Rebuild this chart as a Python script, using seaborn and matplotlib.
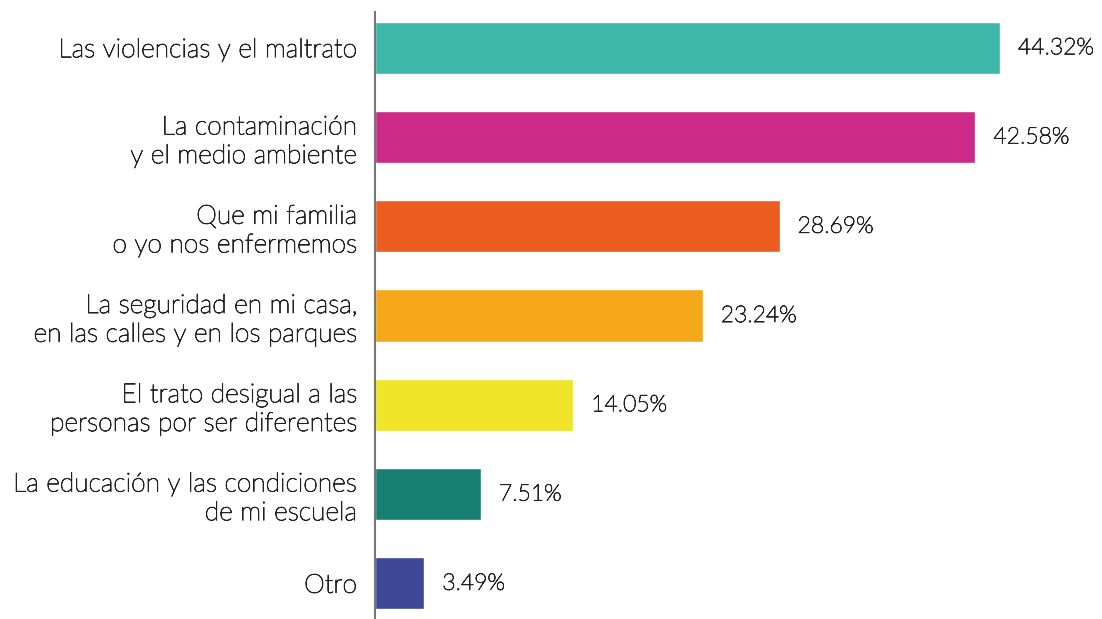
import matplotlib
matplotlib.use("Agg")
import matplotlib.pyplot as plt
import matplotlib.patheffects as pe
import seaborn as sns
import pandas as pd

# chart data
categories = [
    "Las violencias y el maltrato",
    "La contaminación\ny el medio ambiente",
    "Que mi familia\no yo nos enfermemos",
    "La seguridad en mi casa,\nen las calles y en los parques",
    "El trato desigual a las\npersonas por ser diferentes",
    "La educación y las condiciones\nde mi escuela",
    "Otro",
]
percentages = [44.32, 42.58, 28.69, 23.24, 14.05, 7.51, 3.49]
bar_colors = ["#3DB7A9", "#CB2A86", "#EB5C1F", "#F5A81A", "#F0E52B", "#177F72", "#3F4897"]

sns.set_theme(style="white")
plt.rcParams["font.family"] = ["Lato", "DejaVu Sans"]

text_color = "#222222"
thicken = [pe.withStroke(linewidth=0.6, foreground=text_color)]

df = pd.DataFrame({"category": categories, "pct": percentages})

fig = plt.figure(figsize=(11.02, 6.19), dpi=100)
ax = fig.add_axes([375 / 1102, 0, 727 / 1102, 607 / 619])

sns.barplot(data=df, x="pct", y="category", hue="category", palette=bar_colors,
            width=0.585, legend=False, ax=ax, saturation=1)

ax.set_xlim(0, 727 / 14.1)
ax.set_ylim(6.4, -0.4)
ax.set_xlabel("")
ax.set_ylabel("")
ax.set_xticks([])
ax.tick_params(axis="y", length=0, pad=13)
ax.set_yticks(range(len(categories)))
labels = ax.set_yticklabels(categories, fontsize=19, color=text_color,
                            fontweight="light", linespacing=1.25)
for lab in labels:
    lab.set_path_effects(thicken)

for side in ["top", "right", "bottom"]:
    ax.spines[side].set_visible(False)
ax.spines["left"].set_color("#777777")
ax.spines["left"].set_linewidth(1.5)

for i, v in enumerate(percentages):
    ax.annotate(f"{v:.2f}%", xy=(v, i), xytext=(13, 0), textcoords="offset points",
                va="center", ha="left", fontsize=16.5, color=text_color,
                fontweight="light", path_effects=thicken)

fig.savefig("out.png", dpi=100)
